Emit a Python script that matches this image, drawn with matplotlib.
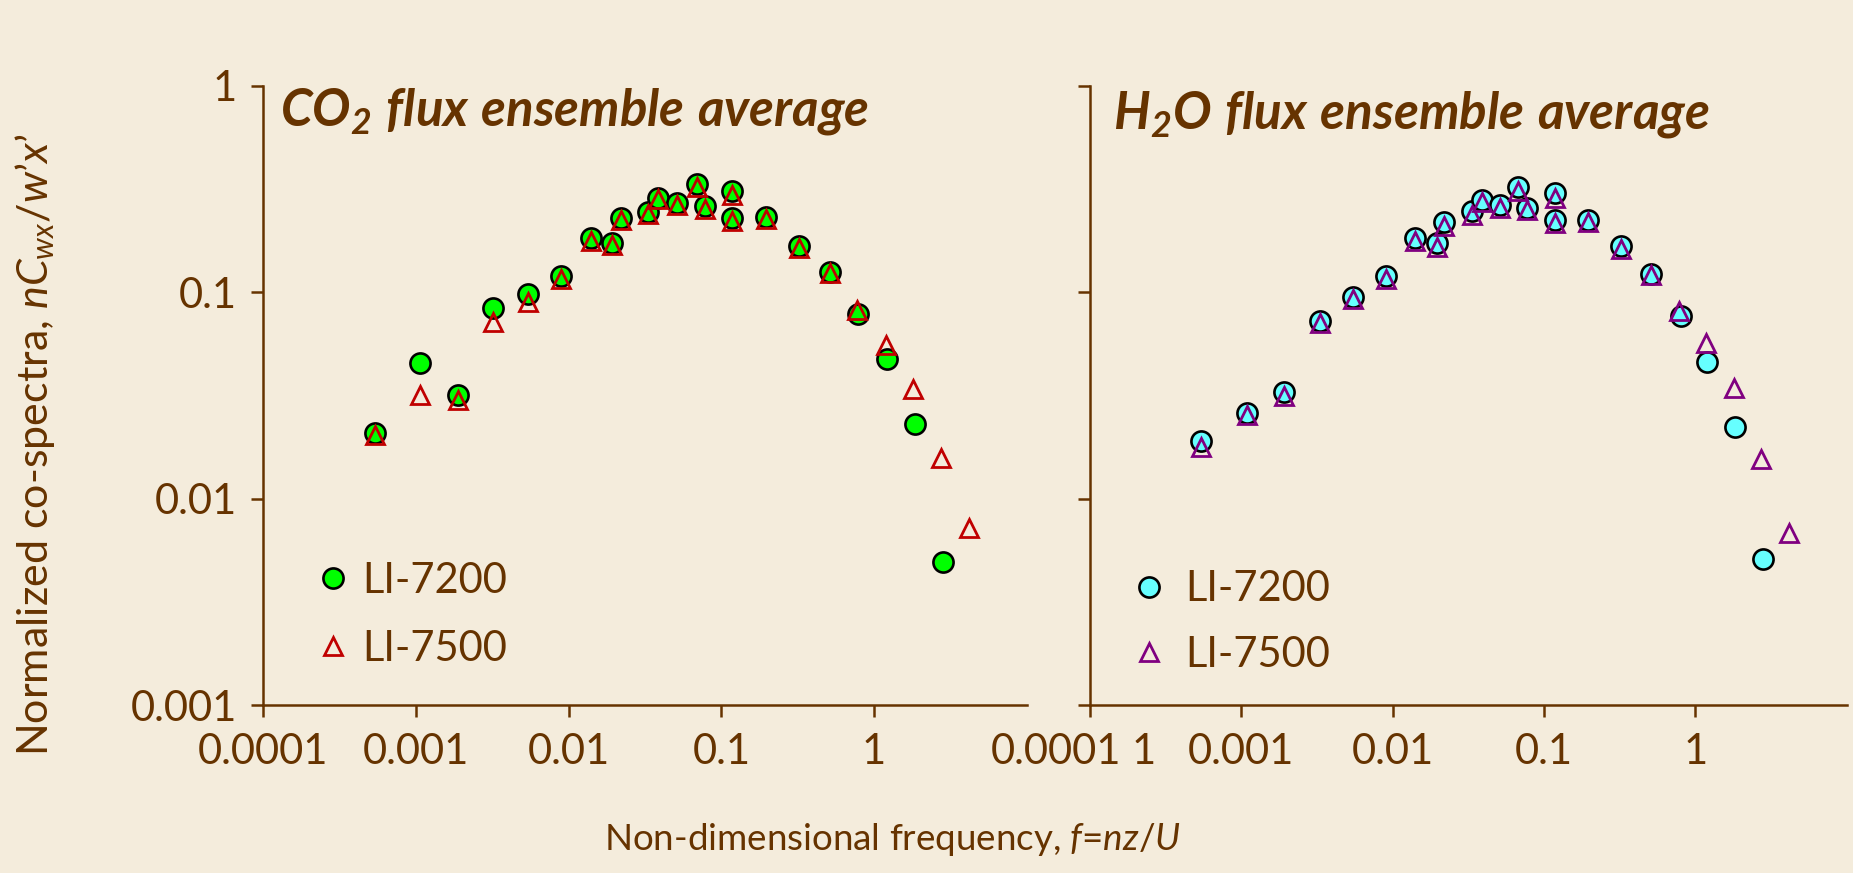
import matplotlib.pyplot as plt

# colours
BG = '#F4ECDC'
BROWN = '#663300'

plt.rcParams['font.family'] = ['Lato', 'DejaVu Sans']
plt.rcParams['mathtext.fontset'] = 'custom'
plt.rcParams['mathtext.rm'] = 'Lato'
plt.rcParams['mathtext.it'] = 'Lato:italic'
plt.rcParams['mathtext.bf'] = 'Lato:bold'
plt.rcParams['mathtext.bfit'] = 'Lato:bold:italic'

# CO2 panel
co2_7200_x = [5.4e-4, 1.07e-3, 1.9e-3, 3.2e-3, 5.4e-3, 8.9e-3, 0.014, 0.0193, 0.0219, 0.0333,
              0.0386, 0.0509, 0.0689, 0.0782, 0.1167, 0.1167, 0.196, 0.324, 0.514, 0.79, 1.21, 1.85, 2.82]
co2_7200_y = [0.0208, 0.0457, 0.0319, 0.0838, 0.098, 0.1206, 0.183, 0.173, 0.229, 0.246,
              0.288, 0.272, 0.334, 0.262, 0.310, 0.230, 0.233, 0.167, 0.125, 0.0787, 0.0478, 0.0232, 0.00495]
co2_7500_x = [5.4e-4, 1.07e-3, 1.9e-3, 3.2e-3, 5.4e-3, 8.9e-3, 0.014, 0.0193, 0.0219, 0.0333,
              0.0386, 0.0509, 0.0689, 0.0782, 0.1167, 0.1167, 0.196, 0.324, 0.514, 0.77, 1.19, 1.80, 2.72, 4.17]
co2_7500_y = [0.0204, 0.0319, 0.030, 0.0722, 0.090, 0.116, 0.178, 0.170, 0.224, 0.240,
              0.283, 0.264, 0.323, 0.254, 0.297, 0.223, 0.226, 0.164, 0.124, 0.082, 0.0557, 0.034, 0.0158, 0.00726]

# H2O panel
h2o_7200_x = [5.4e-4, 1.09e-3, 1.9e-3, 3.3e-3, 5.5e-3, 9.0e-3, 0.014, 0.0195, 0.0218, 0.0332,
              0.039, 0.051, 0.0675, 0.0766, 0.118, 0.118, 0.195, 0.321, 0.505, 0.80, 1.19, 1.83, 2.80]
h2o_7200_y = [0.0191, 0.0262, 0.0329, 0.073, 0.0948, 0.1206, 0.184, 0.173, 0.219, 0.249,
              0.280, 0.265, 0.323, 0.257, 0.302, 0.224, 0.224, 0.167, 0.123, 0.0769, 0.0462, 0.0222, 0.00512]
h2o_7500_x = [5.4e-4, 1.09e-3, 1.9e-3, 3.3e-3, 5.5e-3, 9.0e-3, 0.014, 0.0195, 0.0218, 0.0332,
              0.039, 0.051, 0.0675, 0.0766, 0.118, 0.118, 0.195, 0.321, 0.505, 0.78, 1.18, 1.80, 2.72, 4.16]
h2o_7500_y = [0.0179, 0.0255, 0.0315, 0.071, 0.093, 0.116, 0.178, 0.166, 0.211, 0.237,
              0.275, 0.256, 0.311, 0.251, 0.288, 0.216, 0.219, 0.162, 0.122, 0.0816, 0.0567, 0.0344, 0.0157, 0.00687]

xticks = [1e-4, 1e-3, 1e-2, 1e-1, 1]
xticklabels = ['0.0001', '0.001', '0.01', '0.1', '1']
yticks = [1e-3, 1e-2, 1e-1, 1]
yticklabels = ['0.001', '0.01', '0.1', '1']

fig = plt.figure(figsize=(18.53, 8.73), dpi=100, facecolor=BG)
ax1 = fig.add_axes([0.1419, 0.1919, 0.4123, 0.7096])
ax2 = fig.add_axes([0.5882, 0.1919, 0.4085, 0.7096])


def style(ax):
    ax.set_facecolor(BG)
    ax.set_xscale('log')
    ax.set_yscale('log')
    ax.set_xlim(1e-4, 10)
    ax.set_ylim(1e-3, 1)
    ax.minorticks_off()
    for s in ['top', 'right']:
        ax.spines[s].set_visible(False)
    for s in ['left', 'bottom']:
        ax.spines[s].set_color(BROWN)
        ax.spines[s].set_linewidth(1.8)
    ax.tick_params(direction='out', length=8.5, width=1.8, color=BROWN,
                   labelcolor=BROWN, labelsize=30)
    ax.tick_params(axis='x', pad=11)
    ax.tick_params(axis='y', pad=10)
    ax.set_yticks(yticks)


style(ax1)
style(ax2)
ax1.set_xticks(xticks)
ax1.set_xticklabels(xticklabels)
ax1.set_yticklabels(yticklabels)
ax2.set_xticks(xticks)
ax2.set_xticklabels([''] + xticklabels[1:])
ax2.set_yticklabels([])

ax1.plot(co2_7200_x, co2_7200_y, 'o', ms=14.5, mfc='#00FF00', mec='black', mew=1.9,
         ls='none', label='LI-7200', clip_on=False)
ax1.plot(co2_7500_x, co2_7500_y, '^', ms=13, mfc='none', mec='#C00000', mew=2.0,
         ls='none', label='LI-7500', clip_on=False)
ax2.plot(h2o_7200_x, h2o_7200_y, 'o', ms=14.5, mfc='#66FFFF', mec='black', mew=1.9,
         ls='none', label='LI-7200', clip_on=False)
ax2.plot(h2o_7500_x, h2o_7500_y, '^', ms=13, mfc='none', mec='#800080', mew=2.0,
         ls='none', label='LI-7500', clip_on=False)

ax1.text(0.022, 0.937, r'$\mathbfit{CO_2\ flux\ ensemble\ average}$', transform=ax1.transAxes,
         fontsize=36.7, color=BROWN, va='baseline', ha='left')
ax2.text(0.030, 0.931, r'$\mathbfit{H_2O\ flux\ ensemble\ average}$', transform=ax2.transAxes,
         fontsize=36.9, color=BROWN, va='baseline', ha='left')

leg1 = ax1.legend(loc='upper left', bbox_to_anchor=(0.075, 0.232), frameon=False, fontsize=30,
                  handlelength=0.6, handletextpad=0.4, borderpad=0, borderaxespad=0,
                  labelspacing=0.72)
leg2 = ax2.legend(loc='upper left', bbox_to_anchor=(0.062, 0.218), frameon=False, fontsize=30,
                  handlelength=0.6, handletextpad=0.55, borderpad=0, borderaxespad=0,
                  labelspacing=0.65)
for leg in (leg1, leg2):
    for t in leg.get_texts():
        t.set_color(BROWN)

# stray labels in the gap between panels
fig.text(1056 / 1853, 1 - 752 / 873, '0.0001', fontsize=30, color=BROWN, ha='center', va='center')
fig.text(1144 / 1853, 1 - 752 / 873, '1', fontsize=30, color=BROWN, ha='center', va='center')

fig.text(35 / 1853, 1 - 445 / 873, 'Normalized co-spectra, $nC_{wx}$/$w$’$x$’',
         rotation=90, fontsize=31, color=BROWN, ha='center', va='center')
fig.text(892 / 1853, 1 - 839 / 873, 'Non-dimensional frequency, $f$=$nz/U$',
         fontsize=26.5, color=BROWN, ha='center', va='center')

fig.savefig('out.png', dpi=100, facecolor=BG)
